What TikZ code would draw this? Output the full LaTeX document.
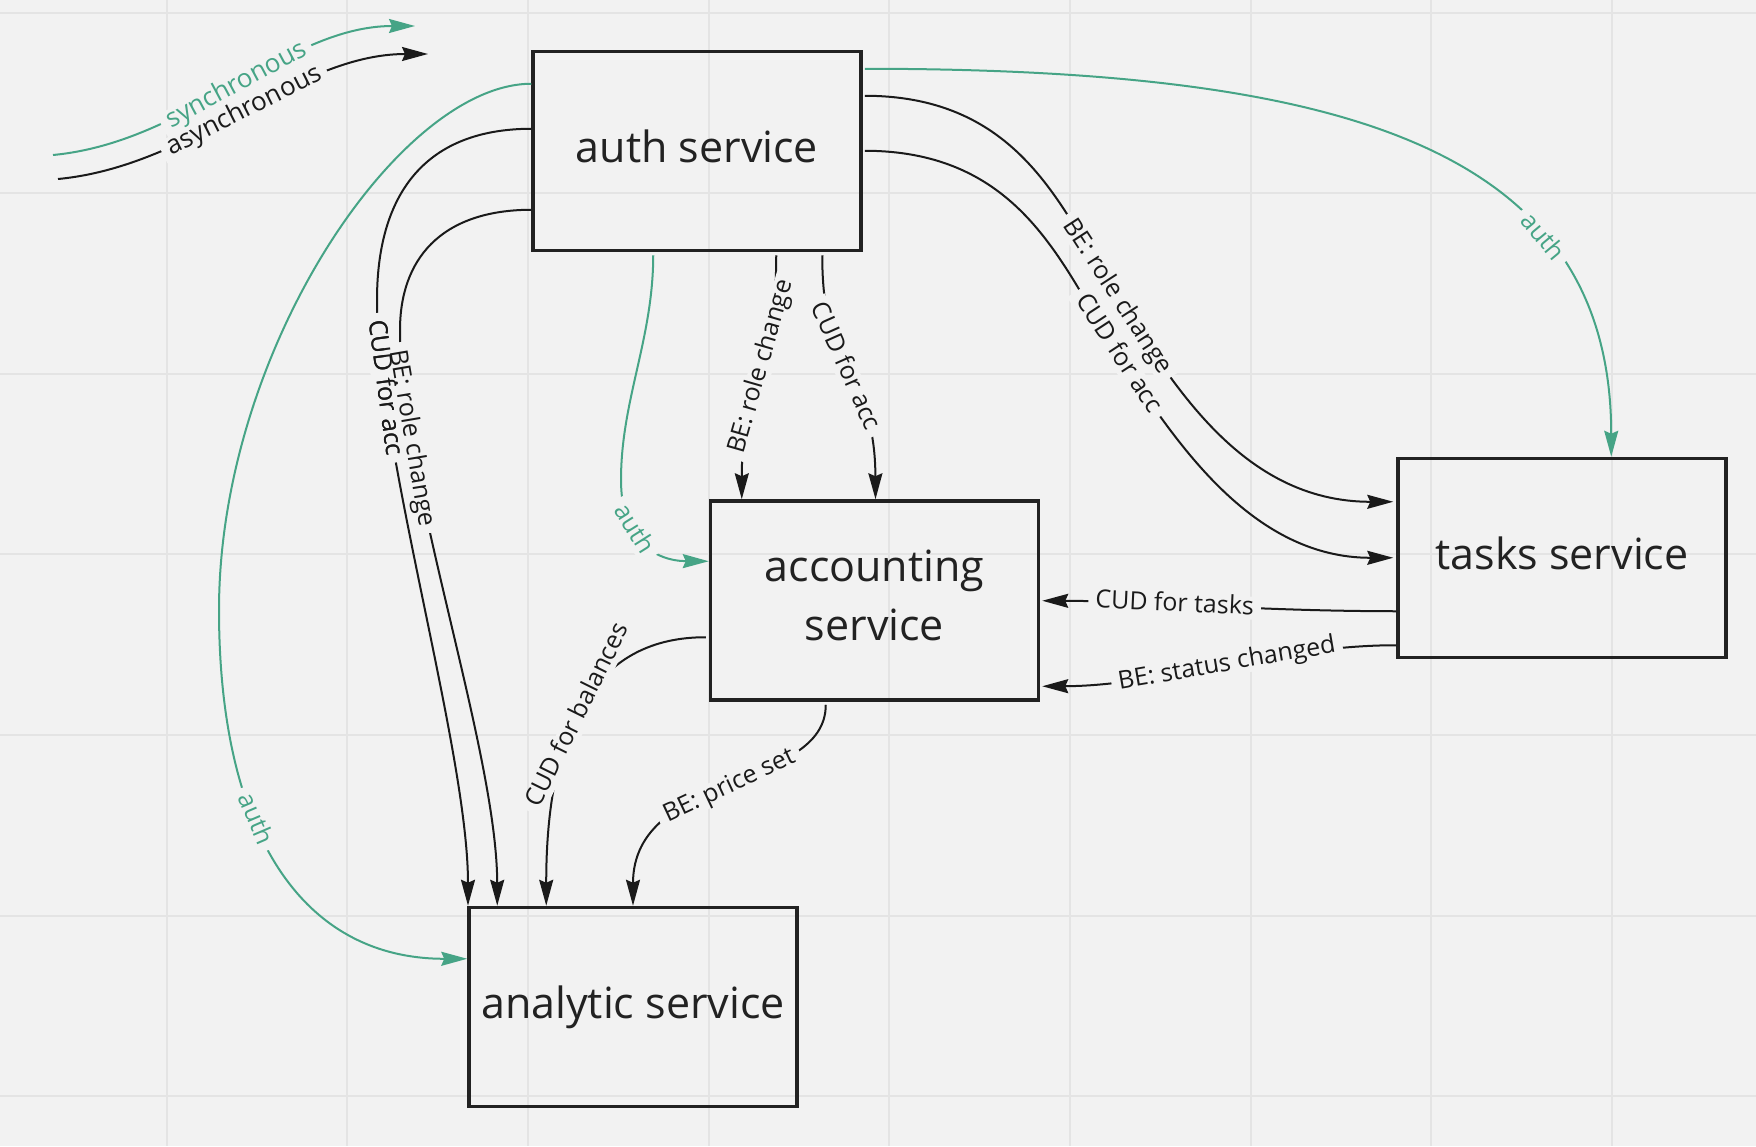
\documentclass[tikz,border=0pt]{standalone}
\usepackage{fontspec}
\setmainfont{Open Sans}
\usetikzlibrary{arrows.meta,calc}
\definecolor{bgc}{HTML}{F2F2F2}
\definecolor{gridc}{HTML}{E4E4E4}
\definecolor{grn}{RGB}{70,164,134}
\definecolor{ink}{HTML}{1A1A1A}
\definecolor{boxc}{HTML}{222222}
\begin{document}
\begin{tikzpicture}[x=1pt,y=-1pt,
  svc/.style={draw=boxc, line width=3.5pt, minimum width=328pt, minimum height=199pt, inner sep=0pt, align=center, font=\fontsize{43}{59}\selectfont, text=boxc, execute at end node={\vphantom{g}}},
  conn/.style={line width=2pt, draw=ink, -{Stealth[length=26pt,width=14pt,inset=3pt]}},
  sync/.style={conn, draw=grn},
  lbl/.style={sloped, fill=bgc, inner xsep=7pt, inner ysep=0pt, text height=18pt, text depth=5pt, font=\fontsize{25}{30}\selectfont, text=ink},
  glbl/.style={lbl, text=grn},
  legend/.style={font=\fontsize{26}{30}\selectfont},
  bare/.style={fill=none},
]
\fill[bgc] (0,0) rectangle (1756,1146);
\useasboundingbox (0,0) rectangle (1756,1146);
\foreach \gx in {166.5,347.2,527.9,708.6,889.3,1070,1250.7,1431.4,1612.1}
  \draw[gridc, line width=2pt] (\gx,0) -- (\gx,1146);
\foreach \gy in {12.5,193.1,373.7,554.3,734.9,915.5,1096.1}
  \draw[gridc, line width=2pt] (0,\gy) -- (1756,\gy);

% services
\node[svc] (auth) at (697,151) {auth service};
\node[svc] (acc) at (874.5,600.5) {accounting\\service};
\node[svc] (ana) at (633,1007) {analytic service};
\node[svc] (tasks) at (1562,558) {tasks service};

% legend
\coordinate (syncA) at (53,155);
\coordinate (syncB) at (415,26);
\coordinate (asyncA) at (58,179);
\coordinate (asyncB) at (428,54);
\draw[sync] (syncA) .. controls (190,142) and (285,26) .. (syncB) node[glbl,legend,pos=0.5] {synchronous};
\draw[conn] (asyncA) .. controls (195,166) and (295,54) .. (asyncB) node[lbl,legend,pos=0.5] {asynchronous};

% synchronous auth calls
\draw[sync] ($(auth.north west)+(0,34)$) .. controls (400,84) and (219,350) .. (219,610)
  .. controls (219,830) and (300,959) .. ($(ana.north west)+(0,53)$) node[glbl,pos=0.38] {auth};
\draw[sync] ($(auth.south west)+(122,3)$) .. controls (653,340) and (621,400) .. (621,480)
  .. controls (621,540) and (655,561) .. ($(acc.north west)+(0,62)$) node[glbl,pos=0.35] {auth};
\draw[sync] ($(auth.north east)+(2,19)$) .. controls (1350,69) and (1611,150) .. ($(tasks.north west)+(215,0)$) node[glbl,pos=0.7] {auth};

% auth -> accounting
\draw[conn] ($(auth.south west)+(245,3)$) .. controls (776,380) and (742,370) .. ($(acc.north west)+(33,0)$) node[lbl,pos=0.45] {BE: role change};
\draw[conn] ($(auth.south west)+(291,3)$) .. controls (822,380) and (875,370) .. ($(acc.north)+(1,0)$) node[lbl,pos=0.45] {CUD for acc};

% auth -> analytic
\draw[conn] ($(auth.north west)+(0,79)$) .. controls (420,129) and (377,200) .. (377,300)
  .. controls (377,450) and (468,750) .. ($(ana.north west)+(0.75,0)$) node[lbl,pos=0.17] {CUD for acc};
\draw[conn] ($(auth.north west)+(0,160)$) .. controls (440,210) and (400,260) .. (400,330)
  .. controls (400,480) and (497,750) .. ($(ana.north west)+(30,0)$) node[lbl,pos=0.21] {BE: role change};
\path ($(auth.north west)+(0,79)$) .. controls (420,129) and (377,200) .. (377,300)
  .. controls (377,450) and (468,750) .. ($(ana.north west)+(0.75,0)$) node[lbl,bare,pos=0.17] {CUD for acc};

% auth -> tasks
\draw[conn] ($(auth.north east)+(2,46)$) .. controls (1024,96) and (1063.5,214.5) .. (1117,297) node[lbl,pos=1] {BE: role change}
  .. controls (1170.5,379.5) and (1240,502) .. ($(tasks.north west)+(-3,45)$);
\draw[conn] ($(auth.north east)+(2,101)$) .. controls (1024,151) and (1063,270) .. (1118,354) node[lbl,pos=1] {CUD for acc}
  .. controls (1173,438) and (1250,558) .. ($(tasks.north west)+(-3,101)$);

% tasks -> accounting
\draw[conn] ($(tasks.south west)+(0,-48)$) .. controls (1250,611) and (1150,601) .. ($(acc.north east)+(2,101.5)$) node[lbl,pos=0.59] {CUD for tasks};
\draw[conn] ($(tasks.south west)+(0,-14)$) .. controls (1280,645) and (1160,686) .. ($(acc.north east)+(2,187)$) node[lbl,pos=0.48] {BE: status changed};

% accounting -> analytic
\draw[conn] ($(acc.north west)+(-3,138)$) .. controls (600,637) and (546,720) .. ($(ana.north west)+(79,0)$) node[lbl,pos=0.55] {CUD for balances};
\draw[conn] ($(acc.south west)+(117,3)$) .. controls (826,790) and (633,770) .. (ana.north) node[lbl,pos=0.5] {BE: price set};
\end{tikzpicture}
\end{document}
